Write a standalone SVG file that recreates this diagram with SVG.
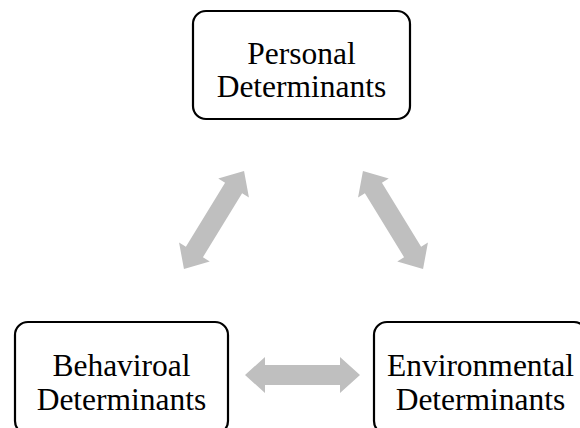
<svg xmlns="http://www.w3.org/2000/svg" width="580" height="428" viewBox="0 0 580 428">
<defs>
<style>
.box{fill:#fff;stroke:#000;stroke-width:2.2}
.t{font-family:"Liberation Serif","Times New Roman",serif;font-size:31.5px;fill:#000;text-anchor:middle}
.arr{fill:#BFBFBF}
</style>
<path id="dbl" d="M -57.5 0 L -37.5 -18 L -37.5 -10 L 37.5 -10 L 37.5 -18 L 57.5 0 L 37.5 18 L 37.5 10 L -37.5 10 L -37.5 18 Z"/>
</defs>
<rect width="580" height="428" fill="#fff"/>
<g id="connectors">
<use href="#dbl" class="arr" transform="translate(214,220) rotate(-58.5)"/>
<use href="#dbl" class="arr" transform="translate(393,220) rotate(58.5)"/>
<use href="#dbl" class="arr" transform="translate(302.5,375)"/>
</g>
<g id="personal">
<rect class="box" x="193" y="11" width="217" height="108" rx="13"/>
<text class="t" x="301.5" y="64">Personal</text>
<text class="t" x="301.5" y="97">Determinants</text>
</g>
<g id="behavioral">
<rect class="box" x="15" y="322" width="213" height="112" rx="13"/>
<text class="t" x="121.5" y="376">Behaviroal</text>
<text class="t" x="121.5" y="410">Determinants</text>
</g>
<g id="environmental">
<rect class="box" x="374" y="322" width="213" height="112" rx="13"/>
<text class="t" x="480.5" y="376">Environmental</text>
<text class="t" x="480.5" y="410">Determinants</text>
</g>
</svg>
